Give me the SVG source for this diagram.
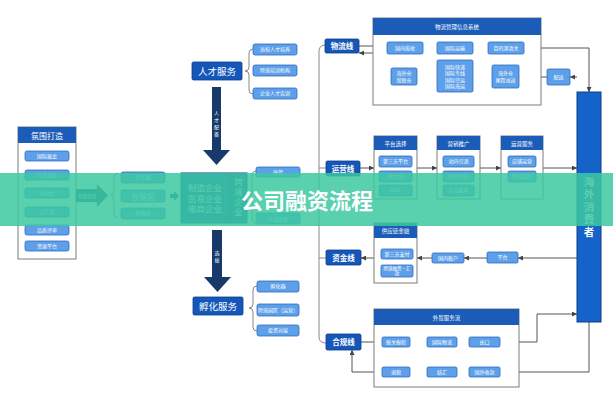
<svg xmlns="http://www.w3.org/2000/svg" width="613" height="400" viewBox="0 0 613 400">
<defs>
<style>
.t{font-family:"Noto Sans CJK SC","Noto Sans",sans-serif;fill:#fff;text-anchor:middle}
.s{font-size:5px}
.hdr{fill:#1a5cb8}
.item{fill:#5d9fe8;stroke:#2f6cc2;stroke-width:0.8}
.cont{fill:#fff;stroke:#7d7d7d;stroke-width:1}
.lbl{fill:#1457b8;stroke:#0e3f8a;stroke-width:0.8}
.ln{stroke:#555;stroke-width:1;fill:none}
.br{stroke:#888;stroke-width:1;fill:none}
.navy{fill:#173a6b}
</style>
<marker id="ah" viewBox="0 0 10 10" refX="10" refY="5" markerWidth="5" markerHeight="5" markerUnits="userSpaceOnUse" orient="auto"><path d="M0,0 L10,5 L0,10 z" fill="#444"/></marker>
</defs>
<rect width="613" height="400" fill="#fff"/>

<!-- left column -->
<g id="atmosphere">
<rect class="cont" x="18" y="127" width="58" height="132"/>
<rect class="hdr" x="18" y="127" width="58" height="16"/>
<text class="t" x="47" y="138.5" font-size="8">氛围打造</text>
<rect class="item" x="25" y="151" width="44" height="10" rx="2"/><text class="t s" x="47" y="157.8">国际展会</text>
<rect class="item" x="25" y="170" width="44" height="10" rx="2"/><text class="t s" x="47" y="176.8">行业论坛</text>
<rect class="item" x="25" y="188" width="44" height="10" rx="2"/><text class="t s" x="47" y="194.8">研讨会</text>
<rect class="item" x="25" y="207" width="44" height="10" rx="2"/><text class="t s" x="47" y="213.8">工厂游</text>
<rect class="item" x="25" y="225" width="44" height="10" rx="2"/><text class="t s" x="47" y="231.8">品质评审</text>
<rect class="item" x="25" y="241" width="44" height="10" rx="2"/><text class="t s" x="47" y="247.8">资源平台</text>
</g>
<g id="arrow-marketing">
<path d="M76,189 L97,189 L97,184 L108,195.5 L97,207 L97,202 L76,202 z" fill="#1d5c8a"/>
<text class="t" x="87" y="197.5" font-size="4.5">跨境营销</text>
</g>
<g id="zone">
<path class="br" d="M118,173 Q114,173 114,177 L114,191 Q114,195 111,195 Q114,195 114,199 L114,214 Q114,218 118,218"/>
<rect class="item" x="121" y="172" width="44" height="11" rx="2"/><text class="t s" x="143" y="179.3">行业展</text>
<rect class="item" x="121" y="190" width="44" height="12" rx="2"/><text class="t" x="143" y="199.5" font-size="8">自贸区</text>
<rect class="item" x="121" y="208" width="44" height="11" rx="2"/><text class="t s" x="143" y="215.3">跨境园</text>
<path d="M170,194 L174,194 L174,191 L179,196 L174,201 L174,198 L170,198 z" fill="#1d5c8a"/>
</g>
<g id="enterprise">
<rect x="181" y="173" width="66" height="50" fill="#1a5cb8" stroke="#0e3f8a"/>
<line x1="230" y1="173" x2="230" y2="223" stroke="#0e3f8a" stroke-width="0.8"/>
<text class="t" x="205" y="191" font-size="8.5">制造企业</text>
<text class="t" x="205" y="201.5" font-size="8.5">贸易企业</text>
<text class="t" x="205" y="212" font-size="8.5">电商企业</text>
<text class="t" x="238.5" y="198" font-size="8.5" writing-mode="vertical-rl" letter-spacing="1.5">跨境企业</text>
</g>
<g id="talent-arrow">
<rect class="navy" x="212" y="87" width="9" height="64"/>
<path class="navy" d="M203,150 L230,150 L216.5,165 z"/>
<text class="t" x="216.5" y="125" font-size="5" writing-mode="vertical-rl" letter-spacing="2">人才配备</text>
</g>
<g id="select-arrow">
<rect class="navy" x="212" y="230" width="10" height="48"/>
<path class="navy" d="M204,277 L231,277 L217.5,292 z"/>
<text class="t" x="217" y="258" font-size="5" writing-mode="vertical-rl" letter-spacing="2">选拔</text>
</g>
<g id="talent">
<rect class="lbl" x="192" y="62" width="50" height="18" rx="1.5"/>
<text class="t" x="217" y="75" font-size="9.5">人才服务</text>
<path class="br" d="M253,49 Q249,49 249,53 L249,67 Q249,71 245,71 Q249,71 249,75 L249,90 Q249,94 253,94"/>
<rect class="item" x="253" y="44" width="44" height="11" rx="2"/><text class="t s" x="275" y="51.3">高校人才培养</text>
<rect class="item" x="253" y="65" width="44" height="11" rx="2"/><text class="t s" x="275" y="72.3">跨境培训机构</text>
<rect class="item" x="253" y="88" width="44" height="11" rx="2"/><text class="t s" x="275" y="95.3">企业人才实训</text>
</g>
<g id="incubate">
<rect class="lbl" x="193" y="297" width="50" height="18" rx="1.5"/>
<text class="t" x="218" y="310" font-size="9.5">孵化服务</text>
<path class="br" d="M257,286 Q253,286 253,290 L253,304 Q253,308 249,308 Q253,308 253,312 L253,327 Q253,331 257,331"/>
<rect class="item" x="257" y="281" width="42" height="11" rx="2"/><text class="t s" x="278" y="288.3">孵化器</text>
<rect class="item" x="257" y="304" width="42" height="12" rx="2"/><text class="t s" x="278" y="311.8">跨境园区（运营）</text>
<rect class="item" x="257" y="325" width="42" height="11" rx="2"/><text class="t s" x="278" y="332.3">投资对接</text>
</g>
<g id="biz">
<path class="br" d="M256,171 Q252,171 252,175 L252,193 Q252,197 248,197 Q252,197 252,201 L252,219 Q252,223 256,223"/>
<rect class="item" x="256" y="167" width="44" height="10" rx="2"/><text class="t s" x="278" y="173.8">外贸</text>
<rect class="item" x="256" y="213" width="44" height="11" rx="2"/><text class="t s" x="278" y="220.5">产品研发</text>
</g>

<!-- connectors -->
<g id="connectors">
<path class="br" d="M326,45 Q319,45 319,51 L319,337 Q319,343 326,343"/>
<line class="br" x1="319" y1="168" x2="326" y2="168"/>
<line class="br" x1="319" y1="258" x2="326" y2="258"/>
<line class="ln" x1="359" y1="46" x2="387" y2="46" marker-end="url(#ah)"/>
<line class="ln" x1="423" y1="48" x2="437" y2="48" marker-end="url(#ah)"/>
<line class="ln" x1="473" y1="48" x2="488" y2="48" marker-end="url(#ah)"/>
<path class="ln" d="M524,48 L589,48 L589,92" marker-end="url(#ah)"/>
<line class="ln" x1="577" y1="77" x2="570" y2="77" marker-end="url(#ah)"/>
<line class="ln" x1="547" y1="77" x2="519" y2="77" marker-end="url(#ah)"/>
<line class="ln" x1="492" y1="77" x2="473" y2="77" marker-end="url(#ah)"/>
<line class="ln" x1="437" y1="77" x2="417" y2="77" marker-end="url(#ah)"/>
<line class="ln" x1="404" y1="68" x2="404" y2="54" marker-end="url(#ah)"/>
<path class="ln" d="M391,77 L379,77 L379,53 L359,53" marker-end="url(#ah)"/>
<line class="ln" x1="360" y1="168" x2="374" y2="168" marker-end="url(#ah)"/>
<line class="ln" x1="417" y1="168" x2="437" y2="168" marker-end="url(#ah)"/>
<line class="ln" x1="480" y1="168" x2="501" y2="168" marker-end="url(#ah)"/>
<line class="ln" x1="543" y1="168" x2="577" y2="168" marker-end="url(#ah)"/>
<line class="ln" x1="577" y1="258" x2="518" y2="258" marker-end="url(#ah)"/>
<line class="ln" x1="487" y1="258" x2="464" y2="258" marker-end="url(#ah)"/>
<line class="ln" x1="432" y1="258" x2="417" y2="258" marker-end="url(#ah)"/>
<line class="ln" x1="374" y1="258" x2="361" y2="258" marker-end="url(#ah)"/>
<line class="ln" x1="361" y1="342" x2="382" y2="342" marker-end="url(#ah)"/>
<line class="ln" x1="410" y1="342" x2="427" y2="342" marker-end="url(#ah)"/>
<line class="ln" x1="457" y1="342" x2="469" y2="342" marker-end="url(#ah)"/>
<path class="ln" d="M500,342 L537,342 L537,314 L577,314" marker-end="url(#ah)"/>
<path class="ln" d="M589,322 L589,372 L500,372" marker-end="url(#ah)"/>
<line class="ln" x1="469" y1="372" x2="457" y2="372" marker-end="url(#ah)"/>
<line class="ln" x1="427" y1="372" x2="410" y2="372" marker-end="url(#ah)"/>
<path class="ln" d="M382,372 L352,372 L352,350" marker-end="url(#ah)"/>
</g>

<!-- line labels -->
<g id="line-logistics"><rect class="lbl" x="325" y="39" width="34" height="14" rx="1.5"/><text class="t" x="342" y="49.3" font-size="7.5" font-weight="bold">物流线</text></g>
<g id="line-ops"><rect class="lbl" x="326" y="161" width="34" height="15" rx="1.5"/><text class="t" x="343" y="171.5" font-size="7.5" font-weight="bold">运营线</text></g>
<g id="line-funds"><rect class="lbl" x="326" y="250" width="35" height="15" rx="1.5"/><text class="t" x="343.5" y="260.5" font-size="7.5" font-weight="bold">资金线</text></g>
<g id="line-comp"><rect class="lbl" x="326" y="334" width="35" height="16" rx="1.5"/><text class="t" x="343.5" y="345" font-size="7.5" font-weight="bold">合规线</text></g>

<!-- logistics system -->
<g id="logistics-system">
<rect class="cont" x="373" y="18" width="168" height="87"/>
<rect class="hdr" x="373" y="18" width="168" height="17"/>
<text class="t" x="457" y="29" font-size="5.5">物流管理信息系统</text>
<rect class="item" x="387" y="42" width="36" height="12" rx="1.5"/><text class="t s" x="405" y="49.8">国内揽收</text>
<rect class="item" x="437" y="42" width="36" height="12" rx="1.5"/><text class="t s" x="455" y="49.8">国际运输</text>
<rect class="item" x="488" y="42" width="36" height="12" rx="1.5"/><text class="t s" x="506" y="49.8">目的港清关</text>
<rect class="item" x="391" y="68" width="26" height="17" rx="1.5"/><text class="t s" x="404" y="75.3">海外仓</text><text class="t s" x="404" y="81.5">保税仓</text>
<rect class="item" x="437" y="60" width="36" height="32" rx="1.5"/>
<text class="t s" x="455" y="68.5">国际快递</text><text class="t s" x="455" y="75">国际专线</text><text class="t s" x="455" y="81.5">国际空运</text><text class="t s" x="455" y="88">国际海运</text>
<rect class="item" x="492" y="65" width="27" height="23" rx="1.5"/><text class="t s" x="505.5" y="75">海外仓</text><text class="t s" x="505.5" y="81.5">尾程派送</text>
</g>
<g id="delivery"><rect class="item" x="547" y="69" width="23" height="16" rx="1.5"/><text class="t s" x="558.5" y="78.8">配送</text></g>

<!-- operations containers -->
<g id="platform">
<rect class="cont" x="374" y="136" width="43" height="63"/>
<rect class="hdr" x="374" y="136" width="43" height="14"/>
<text class="t" x="395.5" y="145.5" font-size="5.5">平台选择</text>
<rect class="item" x="379" y="156" width="33" height="11" rx="1.5"/><text class="t s" x="395.5" y="163.3">第三方平台</text>
<rect class="item" x="379" y="171" width="33" height="11" rx="1.5"/><text class="t s" x="395.5" y="178.3">独立站</text>
<rect class="item" x="379" y="185" width="33" height="11" rx="1.5"/><text class="t s" x="395.5" y="192.3">B2C</text>
</g>
<g id="marketing">
<rect class="cont" x="437" y="136" width="43" height="63"/>
<rect class="hdr" x="437" y="136" width="43" height="14"/>
<text class="t" x="458.5" y="145.5" font-size="5.5">营销推广</text>
<rect class="item" x="443" y="156" width="31" height="11" rx="1.5"/><text class="t s" x="458.5" y="163.3">站内引流</text>
<rect class="item" x="443" y="171" width="31" height="11" rx="1.5"/><text class="t s" x="458.5" y="178.3">站外引流</text>
<rect class="item" x="443" y="185" width="31" height="11" rx="1.5"/><text class="t s" x="458.5" y="192.3">社交媒体</text>
</g>
<g id="opservice">
<rect class="cont" x="501" y="136" width="42" height="63"/>
<rect class="hdr" x="501" y="136" width="42" height="14"/>
<text class="t" x="522" y="145.5" font-size="5.5">运营服务</text>
<rect class="item" x="508" y="156" width="28" height="11" rx="1.5"/><text class="t s" x="522" y="163.3">店铺运营</text>
<rect class="item" x="508" y="171" width="28" height="11" rx="1.5"/><text class="t s" x="522" y="178.3">物流服务</text>
</g>

<!-- funds -->
<g id="supply-finance">
<rect class="cont" x="374" y="223" width="43" height="60"/>
<rect class="hdr" x="374" y="223" width="43" height="15"/>
<text class="t" x="395.5" y="233" font-size="5.5">供应链金融</text>
<rect class="item" x="381" y="249" width="32" height="10" rx="1.5"/><text class="t s" x="397" y="255.8">第三方支付</text>
<rect class="item" x="381" y="265" width="32" height="12" rx="1.5"/><text class="t" x="397" y="270" font-size="4.5">跨境融资·汇</text><text class="t" x="397" y="275.2" font-size="4.5">款</text>
</g>
<g id="domestic-account"><rect class="item" x="432" y="253" width="32" height="10" rx="1.5"/><text class="t s" x="448" y="259.8">国内账户</text></g>
<g id="platform-f"><rect class="item" x="487" y="252" width="31" height="11" rx="1.5"/><text class="t s" x="502.5" y="259.3">平台</text></g>

<!-- compliance -->
<g id="trade-service">
<rect class="cont" x="374" y="309" width="145" height="78"/>
<rect class="hdr" x="374" y="309" width="145" height="16"/>
<text class="t" x="446.5" y="319.5" font-size="5.5">外贸服务流</text>
<rect class="item" x="382" y="337" width="28" height="10" rx="1.5"/><text class="t s" x="396" y="343.8">报关报检</text>
<rect class="item" x="427" y="337" width="30" height="10" rx="1.5"/><text class="t s" x="442" y="343.8">国际物流</text>
<rect class="item" x="469" y="337" width="31" height="10" rx="1.5"/><text class="t s" x="484.5" y="343.8">出口</text>
<rect class="item" x="382" y="367" width="28" height="10" rx="1.5"/><text class="t s" x="396" y="373.8">退税</text>
<rect class="item" x="427" y="367" width="30" height="10" rx="1.5"/><text class="t s" x="442" y="373.8">结汇</text>
<rect class="item" x="469" y="367" width="31" height="10" rx="1.5"/><text class="t s" x="484.5" y="373.8">国外收款</text>
</g>

<g id="consumer">
<rect x="577" y="92" width="24" height="230" fill="#1563c9" stroke="#0d3f8a"/>
<text class="t" x="589" y="208" font-size="10.5" font-weight="bold" writing-mode="vertical-rl" letter-spacing="2">海外消费者</text>
</g>

<!-- banner -->
<rect x="0" y="173" width="613" height="53" fill="#3cc8a0" opacity="0.85"/>
<text class="t" x="307" y="208.5" font-size="22" font-weight="bold">公司融资流程</text>
</svg>
